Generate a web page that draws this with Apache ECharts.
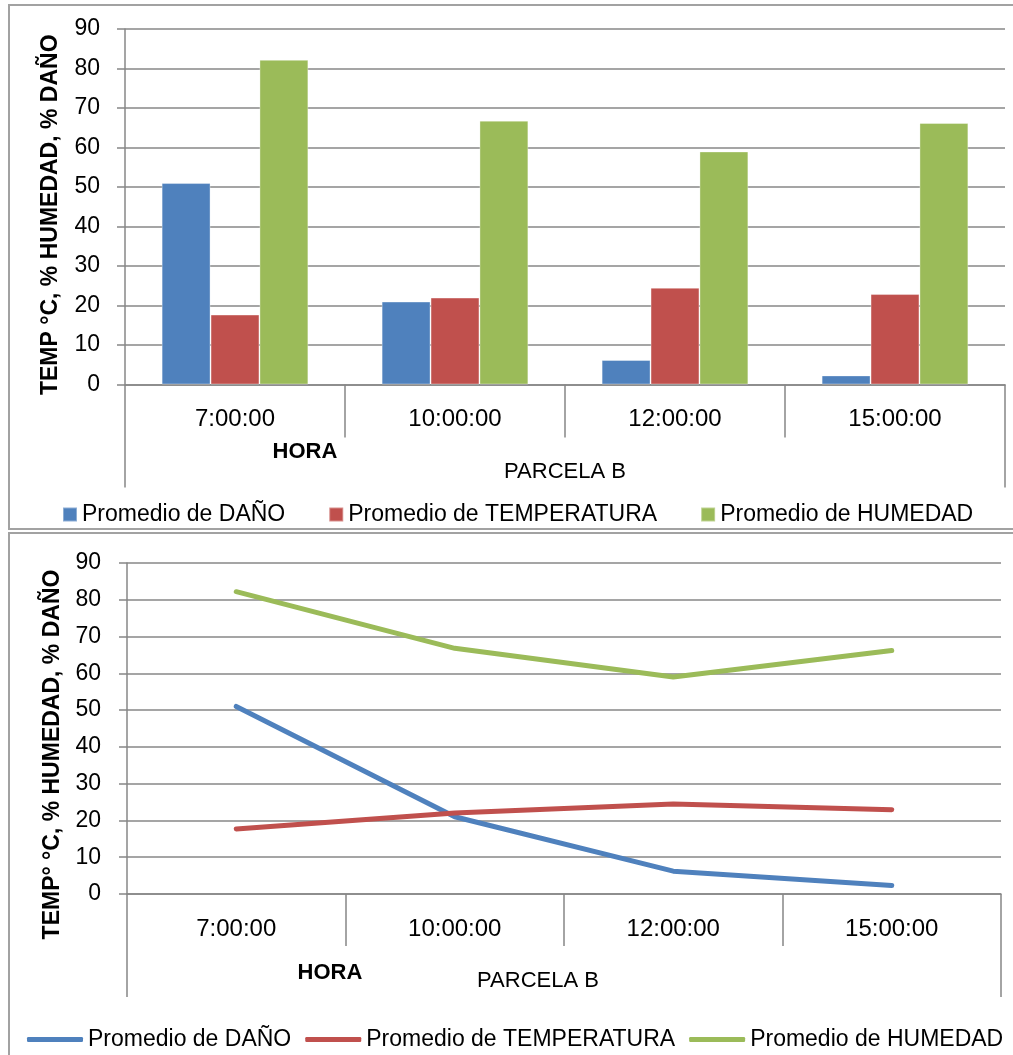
<!DOCTYPE html>
<html><head><meta charset="utf-8">
<script src="https://cdn.jsdelivr.net/npm/echarts@6/dist/echarts.min.js"></script>
<style>
html,body{margin:0;padding:0;background:#fff;overflow:hidden;width:1013px;height:1055px;}
.box{position:absolute;border:2px solid #a2a2a2;box-sizing:border-box;}
#c1{position:absolute;left:0;top:0;width:1013px;height:531px;}
#c2{position:absolute;left:0;top:531px;width:1013px;height:524px;}
</style></head><body>
<div class="box" style="left:8px;top:4px;width:1020px;height:526px"></div>
<div class="box" style="left:8px;top:532px;width:1020px;height:540px"></div>
<div id="c1"></div>
<div id="c2"></div>
<script>
// ---- data ----
const categories = ['7:00:00', '10:00:00', '12:00:00', '15:00:00'];
const groupLabels = ['PARCELA B'];
const seriesNames = ['Promedio de DAÑO', 'Promedio de TEMPERATURA', 'Promedio de HUMEDAD'];
const dano = [51.0, 21.0, 6.2, 2.3];
const temperatura = [17.7, 22.0, 24.5, 22.9];
const humedad = [82.2, 66.8, 59.0, 66.2];
const yMin = 0, yMax = 90, yStep = 10;
const xTitle = 'HORA';
const yTitleTop = 'TEMP °C, % HUMEDAD, % DAÑO';
const yTitleBottom = 'TEMP° °C, % HUMEDAD, % DAÑO';

const colors = ['#4F81BD', '#C0504D', '#9BBB59'];
const FONT = '"Liberation Sans", Arial, sans-serif';
const GRAY = '#878787';
const values = [dano, temperatura, humedad];

function buildOption(cfg) {
  return {
    animation: false,
    color: colors,
    textStyle: { fontFamily: FONT },
    grid: { left: cfg.gridLeft, top: cfg.gridTop, width: cfg.gridWidth, height: cfg.gridHeight },
    legend: {
      data: seriesNames,
      left: cfg.legendLeft, top: cfg.legendTop,
      itemWidth: cfg.iconW, itemHeight: cfg.iconH, itemGap: cfg.legendGap,
      icon: cfg.icon,
      textStyle: { fontSize: 23, color: '#000', fontFamily: FONT },
      selectedMode: false
    },
    xAxis: [
      {
        type: 'category', data: categories, gridIndex: 0, position: 'bottom',
        boundaryGap: true,
        axisLine: { lineStyle: { color: GRAY, width: 1.5 } },
        axisTick: { show: true, length: cfg.tick1, interval: 0, lineStyle: { color: GRAY, width: 1.5 } },
        axisLabel: { fontSize: 24, color: '#000', margin: 23, fontFamily: FONT, interval: 0 },
        splitLine: { show: false }
      },
      {
        type: 'category', data: groupLabels, gridIndex: 0, position: 'bottom',
        offset: cfg.tick1, boundaryGap: true,
        axisLine: { show: false },
        axisTick: { show: true, length: cfg.tick2, interval: 0, lineStyle: { color: GRAY, width: 1.5 } },
        axisLabel: { fontSize: 22, color: '#000', margin: cfg.groupMargin, fontFamily: FONT,
                     padding: cfg.groupPad },
        splitLine: { show: false }
      }
    ],
    yAxis: {
      type: 'value', min: yMin, max: yMax, interval: yStep,
      name: cfg.yTitle, nameLocation: 'middle', nameGap: cfg.nameGap, nameRotate: 90,
      nameTextStyle: { fontSize: 23, fontWeight: 'bold', color: '#000', fontFamily: FONT, padding: cfg.namePad },
      axisLine: { show: true, lineStyle: { color: GRAY, width: 1.5 } },
      axisTick: { show: true, length: 8, lineStyle: { color: GRAY, width: 1.5 } },
      axisLabel: { fontSize: 23, color: '#000', margin: cfg.yLabelMargin, fontFamily: FONT },
      splitLine: { show: true, lineStyle: { color: GRAY, width: 1.5 } }
    },
    graphic: [{
      type: 'text', x: cfg.horaX, y: cfg.horaY,
      style: { text: xTitle, font: 'bold 22px ' + FONT, fill: '#000', textAlign: 'center', textVerticalAlign: 'middle' }
    }],
    series: seriesNames.map((n, i) => cfg.type === 'bar' ? {
      type: 'bar', name: n, data: values[i], xAxisIndex: 0,
      barGap: '0%', barCategoryGap: '33.3%',
      itemStyle: { color: colors[i], borderColor: 'rgba(255,255,255,0.35)', borderWidth: 1 }
    } : {
      type: 'line', name: n, data: values[i], xAxisIndex: 0,
      symbol: 'none', showSymbol: false,
      lineStyle: { color: colors[i], width: 5, cap: 'round', join: 'round' },
      itemStyle: { color: colors[i] }
    })
  };
}

const c1 = echarts.init(document.getElementById('c1'), null, { renderer: 'canvas' });
c1.setOption(buildOption({
  type: 'bar', gridLeft: 125, gridTop: 29, gridWidth: 880, gridHeight: 355.5,
  tick1: 53, tick2: 50, groupMargin: 23, groupPad: [0, 0, 0, 0],
  legendLeft: 57, legendTop: 498, iconW: 14, iconH: 14, legendGap: 43, icon: 'rect',
  yTitle: yTitleTop, nameGap: 63, namePad: [0, 16, 0, 0], yLabelMargin: 25,
  horaX: 305, horaY: 452
}));

const c2 = echarts.init(document.getElementById('c2'), null, { renderer: 'canvas' });
c2.setOption(buildOption({
  type: 'line', gridLeft: 127, gridTop: 32, gridWidth: 874, gridHeight: 331,
  tick1: 52, tick2: 51, groupMargin: 24, groupPad: [0, 52, 0, 0],
  legendLeft: 22, legendTop: 492, iconW: 56, iconH: 5, legendGap: 14, icon: 'roundRect',
  yTitle: yTitleBottom, nameGap: 63, namePad: [0, 52, 0, 0], yLabelMargin: 26,
  horaX: 330, horaY: 442
}));
</script>
</body></html>
